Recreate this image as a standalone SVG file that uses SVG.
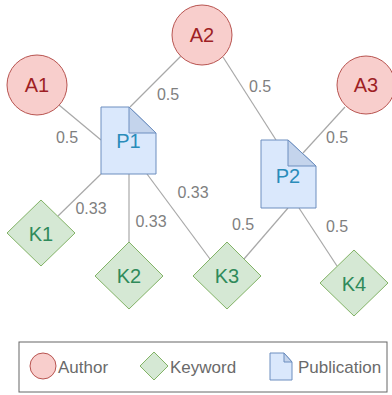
<svg xmlns="http://www.w3.org/2000/svg" width="392" height="395" viewBox="0 0 392 395">
  <style>
    text { font-family: "Liberation Sans", Arial, sans-serif; text-anchor: middle; }
    .author { fill: #f8cecc; stroke: #b85450; stroke-width: 1; }
    .keyword { fill: #d5e8d4; stroke: #82b366; stroke-width: 1; }
    .pub { fill: #dae8fc; stroke: #6c8ebf; stroke-width: 1; }
    .fold { fill: #c4d4ec; stroke: #6c8ebf; stroke-width: 1; }
    .a-label { fill: #9e1f24; font-size: 20px; }
    .k-label { fill: #2f8a5a; font-size: 20px; }
    .p-label { fill: #2a8cba; font-size: 20px; }
    .edge { stroke: #a8a8a8; stroke-width: 1.2; fill: none; }
    .weight { fill: #7f7f7f; font-size: 16px; }
    .legend-text { fill: #6a6a6a; font-size: 17px; text-anchor: start; }
  </style>
  <rect width="392" height="395" fill="#ffffff"/>

  <!-- connectors with their weights -->
  <g id="connectors">
    <line class="edge" x1="59" y1="105" x2="101" y2="140"/>
    <line class="edge" x1="181" y1="56" x2="130" y2="107"/>
    <line class="edge" x1="223" y1="57" x2="276" y2="140"/>
    <line class="edge" x1="345" y1="107" x2="303" y2="153"/>
    <line class="edge" x1="101" y1="174" x2="58" y2="216"/>
    <line class="edge" x1="129" y1="174" x2="129" y2="242"/>
    <line class="edge" x1="147" y1="174" x2="210" y2="259"/>
    <line class="edge" x1="288" y1="208" x2="244" y2="259"/>
    <line class="edge" x1="299" y1="208" x2="337" y2="266"/>
    <text class="weight" x="67" y="143">0.5</text>
    <text class="weight" x="168" y="100">0.5</text>
    <text class="weight" x="260" y="92">0.5</text>
    <text class="weight" x="337" y="143">0.5</text>
    <text class="weight" x="91" y="214">0.33</text>
    <text class="weight" x="151" y="227">0.33</text>
    <text class="weight" x="193" y="198">0.33</text>
    <text class="weight" x="243" y="230">0.5</text>
    <text class="weight" x="337" y="232">0.5</text>
  </g>

  <!-- authors -->
  <g id="A1"><circle class="author" cx="37" cy="85" r="30"/><text class="a-label" x="37" y="92">A1</text></g>
  <g id="A2"><circle class="author" cx="202" cy="35" r="30"/><text class="a-label" x="202" y="42">A2</text></g>
  <g id="A3"><circle class="author" cx="366" cy="85" r="29"/><text class="a-label" x="366" y="92">A3</text></g>

  <!-- publications -->
  <g id="P1">
    <path class="pub" d="M101,107 H129 L156,133 V174 H101 Z"/>
    <path class="fold" d="M129,107 V133 H156 Z"/>
    <text class="p-label" x="128.5" y="148">P1</text>
  </g>
  <g id="P2">
    <path class="pub" d="M261,140 H288 L316,166 V208 H261 Z"/>
    <path class="fold" d="M288,140 V166 H316 Z"/>
    <text class="p-label" x="288" y="183">P2</text>
  </g>

  <!-- keywords -->
  <g id="K1"><path class="keyword" d="M41,200 L75,233 L41,266 L7,233 Z"/><text class="k-label" x="41" y="241">K1</text></g>
  <g id="K2"><path class="keyword" d="M129,242 L163,276 L129,309 L95,276 Z"/><text class="k-label" x="129" y="283">K2</text></g>
  <g id="K3"><path class="keyword" d="M227,242 L261,276 L227,309 L193,276 Z"/><text class="k-label" x="227" y="283">K3</text></g>
  <g id="K4"><path class="keyword" d="M354,250 L388,283 L354,316 L320,283 Z"/><text class="k-label" x="354" y="291">K4</text></g>

  <!-- legend -->
  <g id="legend">
    <rect x="19" y="342" width="368" height="50" fill="#ffffff" stroke="#666666" stroke-width="1"/>
    <circle class="author" cx="43" cy="366" r="13"/>
    <text class="legend-text" x="58" y="373">Author</text>
    <path class="keyword" d="M154,352 L168,366 L154,380 L140,366 Z"/>
    <text class="legend-text" x="170" y="373">Keyword</text>
    <path class="pub" d="M270,353 H284 L292,362 V380 H270 Z"/>
    <path class="fold" d="M284,353 V362 H292 Z"/>
    <text class="legend-text" x="298" y="373">Publication</text>
  </g>
</svg>
